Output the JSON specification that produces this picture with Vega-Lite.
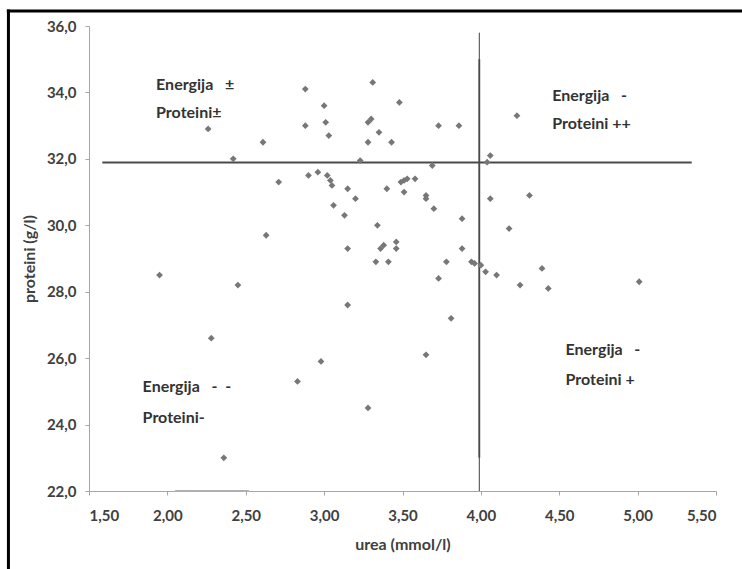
{
  "$schema": "https://vega.github.io/schema/vega-lite/v6.json",
  "width": 627,
  "height": 465,
  "autosize": {"type": "none"},
  "padding": {"left": 89, "top": 26, "right": 26, "bottom": 78},
  "background": "white",
  "config": {
    "font": "Lato",
    "view": {"stroke": null},
    "axis": {
      "grid": false,
      "domainColor": "#a6a6a6",
      "domainWidth": 1,
      "tickColor": "#a6a6a6",
      "tickSize": 4,
      "labelFont": "Lato",
      "labelFontWeight": "bold",
      "labelFontSize": 15,
      "labelColor": "#404040",
      "titleFont": "Lato",
      "titleFontWeight": "bold",
      "titleFontSize": 16,
      "titleColor": "#404040"
    }
  },
  "datasets": {
    "points": [
      {"x": 1.95, "y": 28.5}, {"x": 2.26, "y": 32.9}, {"x": 2.28, "y": 26.6}, {"x": 2.36, "y": 23.0},
      {"x": 2.42, "y": 32.0}, {"x": 2.45, "y": 28.2}, {"x": 2.61, "y": 32.5}, {"x": 2.63, "y": 29.7},
      {"x": 2.71, "y": 31.3}, {"x": 2.83, "y": 25.3}, {"x": 2.88, "y": 34.1}, {"x": 2.88, "y": 33.0},
      {"x": 2.90, "y": 31.5}, {"x": 2.96, "y": 31.6}, {"x": 2.98, "y": 25.9}, {"x": 3.00, "y": 33.6},
      {"x": 3.01, "y": 33.1}, {"x": 3.02, "y": 31.5}, {"x": 3.03, "y": 32.7}, {"x": 3.04, "y": 31.35},
      {"x": 3.05, "y": 31.2}, {"x": 3.06, "y": 30.6}, {"x": 3.13, "y": 30.3}, {"x": 3.15, "y": 31.1},
      {"x": 3.15, "y": 29.3}, {"x": 3.15, "y": 27.6}, {"x": 3.20, "y": 30.8}, {"x": 3.23, "y": 31.95},
      {"x": 3.28, "y": 32.5}, {"x": 3.28, "y": 33.1}, {"x": 3.30, "y": 33.2}, {"x": 3.28, "y": 24.5},
      {"x": 3.31, "y": 34.3}, {"x": 3.33, "y": 28.9}, {"x": 3.34, "y": 30.0}, {"x": 3.35, "y": 32.8},
      {"x": 3.36, "y": 29.3}, {"x": 3.38, "y": 29.4}, {"x": 3.40, "y": 31.1}, {"x": 3.41, "y": 28.9},
      {"x": 3.43, "y": 32.5}, {"x": 3.46, "y": 29.5}, {"x": 3.46, "y": 29.3}, {"x": 3.48, "y": 33.7},
      {"x": 3.49, "y": 31.3}, {"x": 3.51, "y": 31.0}, {"x": 3.51, "y": 31.35}, {"x": 3.53, "y": 31.4},
      {"x": 3.58, "y": 31.4}, {"x": 3.65, "y": 30.9}, {"x": 3.65, "y": 30.8}, {"x": 3.65, "y": 26.1},
      {"x": 3.69, "y": 31.8}, {"x": 3.70, "y": 30.5}, {"x": 3.73, "y": 33.0}, {"x": 3.73, "y": 28.4},
      {"x": 3.78, "y": 28.9}, {"x": 3.81, "y": 27.2}, {"x": 3.86, "y": 33.0}, {"x": 3.88, "y": 30.2},
      {"x": 3.88, "y": 29.3}, {"x": 3.94, "y": 28.9}, {"x": 3.96, "y": 28.85}, {"x": 4.00, "y": 28.8},
      {"x": 4.03, "y": 28.6}, {"x": 4.04, "y": 31.9}, {"x": 4.06, "y": 32.1}, {"x": 4.06, "y": 30.8},
      {"x": 4.10, "y": 28.5}, {"x": 4.18, "y": 29.9}, {"x": 4.23, "y": 33.3}, {"x": 4.25, "y": 28.2},
      {"x": 4.31, "y": 30.9}, {"x": 4.39, "y": 28.7}, {"x": 4.43, "y": 28.1}, {"x": 5.01, "y": 28.3}
    ],
    "frame": [
      {"x": 0.986, "x2": 0.986, "y": 36.5, "y2": 19.0},
      {"x": 0.976, "x2": 5.9, "y": 36.45, "y2": 36.45}
    ],
    "refThin": [
      {"x": 3.99, "x2": 3.99, "y": 22.0, "y2": 35.8}
    ],
    "refThick": [
      {"x": 3.99, "x2": 3.99, "y": 23.0, "y2": 35.0},
      {"x": 1.585, "x2": 5.345, "y": 31.89, "y2": 31.89}
    ],
    "faint": [
      {"x": 2.05, "x2": 2.52, "y": 22.0, "y2": 22.0}
    ],
    "labels": [
      {"x": 1.928, "y": 34.22, "label": "Energija\u00a0\u00a0\u00a0±"},
      {"x": 1.928, "y": 33.38, "label": "Proteini±"},
      {"x": 4.455, "y": 33.89, "label": "Energija\u00a0\u00a0\u00a0-"},
      {"x": 4.455, "y": 33.04, "label": "Proteini ++"},
      {"x": 4.54, "y": 26.26, "label": "Energija\u00a0\u00a0\u00a0-"},
      {"x": 4.54, "y": 25.33, "label": "Proteini +"},
      {"x": 1.842, "y": 25.13, "label": "Energija\u00a0\u00a0\u00a0-\u00a0\u00a0-"},
      {"x": 1.842, "y": 24.21, "label": "Proteini-"}
    ]
  },
  "encoding": {
    "x": {
      "field": "x",
      "type": "quantitative",
      "scale": {"domain": [1.5, 5.5], "nice": false, "zero": false},
      "axis": {
        "title": "urea (mmol/l)",
        "values": [1.5, 2, 2.5, 3, 3.5, 4, 4.5, 5, 5.5],
        "labelExpr": "replace(format(datum.value, '.2f'), '.', ',')",
        "labelPadding": 13,
        "titleX": 313.5,
        "titleY": 53.5,
        "titleBaseline": "middle",
        "titleAlign": "center"
      }
    },
    "y": {
      "field": "y",
      "type": "quantitative",
      "scale": {"domain": [22, 36], "nice": false, "zero": false},
      "axis": {
        "title": "proteini (g/l)",
        "values": [22, 24, 26, 28, 30, 32, 34, 36],
        "labelExpr": "replace(format(datum.value, '.1f'), '.', ',')",
        "labelPadding": 9,
        "titleX": -60,
        "titleY": 232.5,
        "titleAngle": -90,
        "titleBaseline": "middle",
        "titleAlign": "center"
      }
    }
  },
  "layer": [
    {
      "data": {"name": "faint"},
      "mark": {"type": "rule", "color": "#b0b0b0", "strokeWidth": 2},
      "encoding": {"x2": {"field": "x2"}, "y2": {"field": "y2"}}
    },
    {
      "data": {"name": "frame"},
      "mark": {"type": "rule", "color": "#000000", "strokeWidth": 3, "clip": false},
      "encoding": {"x2": {"field": "x2"}, "y2": {"field": "y2"}}
    },
    {
      "data": {"name": "refThin"},
      "mark": {"type": "rule", "color": "#404040", "strokeWidth": 1},
      "encoding": {"x2": {"field": "x2"}, "y2": {"field": "y2"}}
    },
    {
      "data": {"name": "refThick"},
      "mark": {"type": "rule", "color": "#4a4a4a", "strokeWidth": 1.8},
      "encoding": {"x2": {"field": "x2"}, "y2": {"field": "y2"}}
    },
    {
      "data": {"name": "points"},
      "mark": {"type": "point", "shape": "diamond", "filled": true, "size": 46, "color": "#777777", "opacity": 1}
    },
    {
      "data": {"name": "labels"},
      "mark": {"type": "text", "align": "left", "baseline": "middle", "fontSize": 16, "fontWeight": "bold", "color": "#333333", "font": "Lato"},
      "encoding": {"text": {"field": "label"}}
    }
  ]
}
